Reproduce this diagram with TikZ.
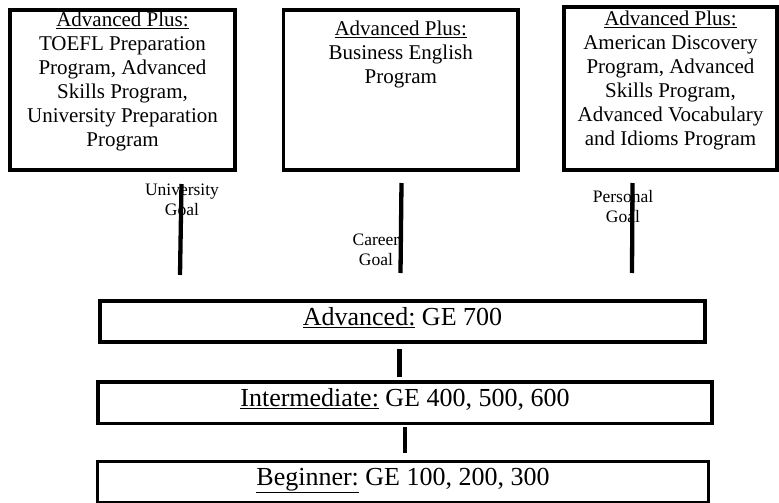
\documentclass[tikz,border=0pt]{standalone}
\usepackage{fontspec}
\setmainfont{Liberation Serif}
\usepackage{tikz}
\usetikzlibrary{positioning}
\tikzset{plusbox/.style = {draw, line width=3.5pt, inner sep=0pt},
         plustext/.style = {align=center, inner sep=0pt,
                            font=\fontsize{21}{24}\selectfont},
         levelbox/.style = {draw, line width=3.3pt, inner sep=0pt,
                            text height=15pt, text depth=8pt,
                            font=\fontsize{26}{29}\selectfont},
         goal/.style = {anchor=north, align=center, inner sep=0pt,
                        font=\fontsize{17.5}{20}\selectfont},
         link/.style = {line width=4.3pt}}

\begin{document}
\begin{tikzpicture}[x=1pt, y=-1pt]
      \useasboundingbox [fill=white] (0, 0) rectangle (779, 503);

      \node [plusbox, minimum width=225pt, minimum height=160pt] (univbox) at (122.5, 90) {};
      \node [plusbox, minimum width=234.5pt, minimum height=160pt] (careerbox) at (400.75, 90) {};
      \node [plusbox, minimum width=213pt, minimum height=163pt] (persbox) at (670.5, 88.5) {};

      \node [plustext, below=3.5pt of univbox.north] (univtext)
            {\underline{Advanced Plus:}\\ TOEFL Preparation\\ Program, Advanced\\
             Skills Program,\\ University Preparation\\ Program};
      \node [plustext, below=12.5pt of careerbox.north] (careertext)
            {\underline{Advanced Plus:}\\ Business English\\ Program};
      \node [plustext, below=5.5pt of persbox.north] (perstext)
            {\underline{Advanced Plus:}\\ American Discovery\\ Program, Advanced\\
             Skills Program,\\ Advanced Vocabulary\\ and Idioms Program};

      \node [goal] (univgoal) at (182, 183.5) {University\\ Goal};
      \node [goal] (careergoal) at (376, 233.5) {Career\\ Goal};
      \node [goal] (persgoal) at (623, 190.5) {Personal\\ Goal};

      \node [levelbox, minimum width=605pt, minimum height=41pt] (adv) at (402.5, 321.5)
            {\underline{Advanced:} GE 700};
      \node [levelbox, minimum width=614pt, minimum height=41.5pt] (inter) at (405, 402.75)
            {\underline{Intermediate:} GE 400, 500, 600};
      \node [levelbox, minimum width=610.5pt, minimum height=41pt] (beg) at (403, 482)
            {\underline{Beginner:} GE 100, 200, 300};

      \coordinate (univtop) at (181.5, 184);
      \coordinate (univend) at (180, 275);
      \coordinate (careertop) at (401.5, 183);
      \coordinate (careerend) at (400.5, 273);
      \coordinate (perstop) at (632.5, 183);
      \coordinate (persend) at (632, 273);
      \coordinate (advlow) at (399.5, 349);
      \coordinate (interup) at (399.5, 377);
      \coordinate (interlow) at (405, 427);
      \coordinate (begup) at (405, 453);

      \draw [link] (univtop) -- (univend);
      \draw [link] (careertop) -- (careerend);
      \draw [link] (perstop) -- (persend);
      \draw [link] (advlow) -- (interup);
      \draw [link] (interlow) -- (begup);
    \end{tikzpicture}
\end{document}
